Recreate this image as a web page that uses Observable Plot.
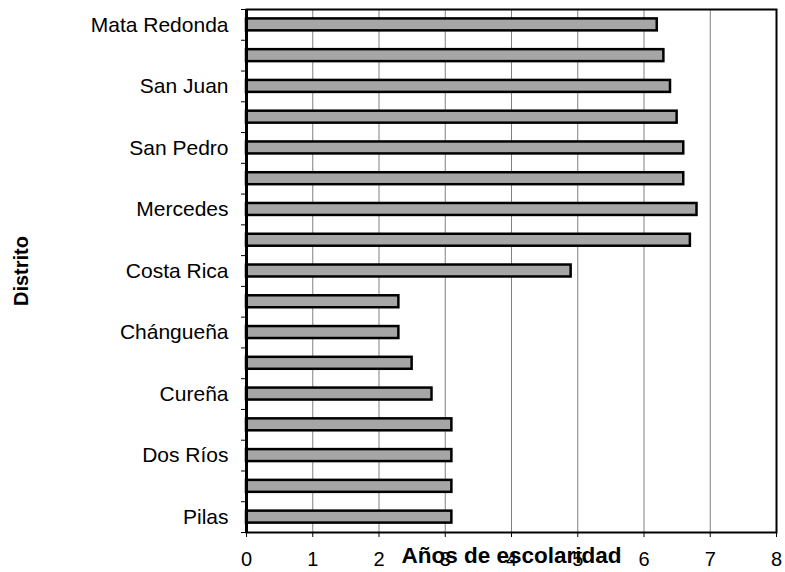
<!DOCTYPE html>
<html><head><meta charset="utf-8">
<script src="https://cdn.jsdelivr.net/npm/d3@7"></script>
<script src="https://cdn.jsdelivr.net/npm/@observablehq/plot@0.6"></script>
<style>body{margin:0;background:#fff;font-family:Arial, "Liberation Sans", sans-serif;}</style>
</head><body><div id="chart"></div>
<script>
const districts = ["Mata Redonda","","San Juan","","San Pedro","","Mercedes","","Costa Rica","","Chángueña","","Cureña","","Dos Ríos","","Pilas"];
const years = [6.2,6.3,6.4,6.5,6.6,6.6,6.8,6.7,4.9,2.3,2.3,2.5,2.8,3.1,3.1,3.1,3.1];
const xTicks = [0,1,2,3,4,5,6,7,8];
const xTitle = "Años de escolaridad";
const yTitle = "Distrito";

const data = districts.map((name,i)=>({name, i, value: years[i]}));
const n = data.length;
const chart = Plot.plot({
  width:785, height:572, marginLeft:246, marginRight:9, marginTop:9, marginBottom:40,
  style:{fontFamily:"Arial, 'Liberation Sans', sans-serif", fontSize:"20px", color:"#000", background:"#fff"},
  x:{domain:[0,8]},
  y:{domain:[0,n], reverse:true},
  marks:[
    Plot.gridX(xTicks,{stroke:"#808080", strokeOpacity:1, strokeWidth:1}),
    Plot.rectX(data,{x1:0, x2:"value", y1:"i", y2:d=>d.i+1, insetTop:9.4, insetBottom:9.4, fill:"#a6a6a6", stroke:"#000", strokeWidth:2.5}),
    Plot.frame({stroke:"#000", strokeWidth:2}),
    Plot.ruleX([0],{stroke:"#000", strokeWidth:3}),
    Plot.axisX(xTicks,{tickSize:5, tickPadding:14, label:null, fontSize:20}),
    Plot.axisY(d3.range(n+1),{tickSize:5, tickFormat:()=>"", label:null}),
    Plot.text(data.filter(d=>d.name),{x:0, y:d=>d.i+0.5, text:"name", textAnchor:"end", dx:-18, fontSize:21}),
    Plot.text([xTitle],{frameAnchor:"bottom", textAnchor:"middle", dy:30, fontWeight:"bold", fontSize:22.5}),
    Plot.text([yTitle],{frameAnchor:"left", textAnchor:"middle", dx:-225, rotate:-90, fontWeight:"bold", fontSize:20})
  ]
});
document.getElementById("chart").appendChild(chart);
</script></body></html>
